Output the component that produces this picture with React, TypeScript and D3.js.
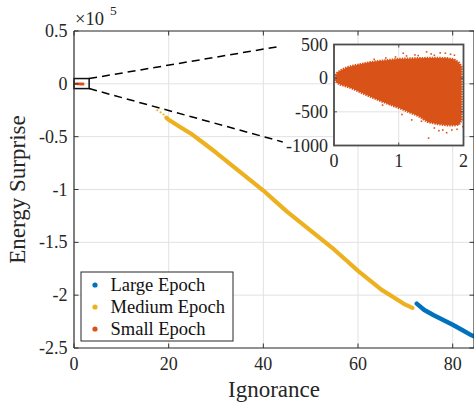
import React from "react";
import * as d3 from "d3";

// ---------- data (energy surprise in units of 1e5 for the main axes) ----------
const mediumX = [19.5, 20, 22.5, 25, 27.5, 30, 32.5, 35, 37.5, 40, 42.5, 45, 47.5, 50, 52.5, 55, 57.5, 60, 62.5, 65, 67.5, 70, 71.5];
const mediumY = [-0.32, -0.34, -0.41, -0.48, -0.565, -0.65, -0.74, -0.83, -0.92, -1.01, -1.11, -1.21, -1.30, -1.39, -1.48, -1.57, -1.67, -1.77, -1.86, -1.95, -2.02, -2.09, -2.12];
const mediumStrayX = [17.6, 18.3, 18.9];
const mediumStrayY = [-0.25, -0.27, -0.29];
const largeX = [72.4, 74, 76, 78, 80, 82, 84, 86];
const largeY = [-2.08, -2.14, -2.19, -2.235, -2.28, -2.33, -2.38, -2.42];

// small epoch cloud (raw energy surprise), dense envelope
const smallX = [0.02, 0.05, 0.1, 0.2, 0.3, 0.4, 0.55, 0.7, 0.86, 1.0, 1.15, 1.3, 1.45, 1.6, 1.75, 1.85, 1.93, 1.97];
const smallUpper = [40, 80, 115, 160, 185, 205, 235, 255, 270, 285, 290, 295, 300, 300, 295, 280, 230, 170];
const smallLower = [-40, -70, -95, -125, -160, -205, -270, -330, -390, -440, -500, -560, -650, -680, -700, -700, -690, -620];
const smallStrayX = [1.07, 1.12, 1.25, 1.3, 1.43, 1.5, 1.55, 1.64, 1.72, 1.8, 1.86, 0.62, 0.8, 0.95, 1.46, 1.74, 1.99, 1.62, 1.9, 1.35, 1.55, 1.2, 1.05, 0.75, 1.68, 1.82, 1.95];
const smallStrayY = [370, 330, 345, 335, 390, 360, 340, 375, 370, 355, 340, 280, 300, 315, -890, -810, -720, -780, -760, -640, -740, -620, -540, -400, -770, -770, -450];

const xTicks = [0, 20, 40, 60, 80];
const yTicks = [0.5, 0, -0.5, -1, -1.5, -2, -2.5];
const yTickLabels = ["0.5", "0", "-0.5", "-1", "-1.5", "-2", "-2.5"];
const insetXTicks = [0, 1, 2];
const insetYTicks = [500, 0, -500, -1000];

const zoomBoxX = [0, 3.2];
const zoomBoxY = [-0.045, 0.05];
const connectorEnds = [
  [42.9, 0.35],
  [44.1, -0.55],
];

const legendNames = ["Large Epoch", "Medium Epoch", "Small Epoch"];
const legendColors = ["#0072BD", "#EDB120", "#D95319"];

const FONT = '"Liberation Serif", "DejaVu Serif", serif';
const AX = "#333333";
const GRID = "#e2e2e2";

export default function App() {
  const x = d3.scaleLinear().domain([0, 84.5]).range([74, 474]);
  const y = d3.scaleLinear().domain([-2.5, 0.5]).range([348, 31]);
  const ix = d3.scaleLinear().domain([0, 2]).range([334, 463.5]);
  const iy = d3.scaleLinear().domain([-1000, 500]).range([145.5, 44.5]);

  const [x0, x1] = x.range();
  const [y0, y1] = [y(0.5), y(-2.5)];
  const [ix0, ix1] = ix.range();
  const [iy0, iy1] = [iy(500), iy(-1000)];

  const medPath = d3.line<number>().x((d) => x(d)).y((_, i) => y(mediumY[i]))(mediumX as any) || "";
  const largePath = d3.line<number>().x((d) => x(d)).y((_, i) => y(largeY[i]))(largeX as any) || "";
  const insetArea = d3.area<number>().x((d) => ix(d)).y0((_, i) => iy(smallLower[i])).y1((_, i) => iy(smallUpper[i]))(smallX as any) || "";
  const mainSmallArea = d3.area<number>().x((d) => x(d)).y0((_, i) => y(smallLower[i] / 1e5)).y1((_, i) => y(smallUpper[i] / 1e5))(smallX as any) || "";

  const tickLen = 4.5;
  const ts = (size: number, fill = "#262626") => ({ fontFamily: FONT, fontSize: size + "px", fill });

  return (
    <svg width={474} height={402} style={{ position: "absolute", left: 0, top: 0, background: "#fff" }}>
      <defs>
        <clipPath id="mainClip"><rect x={x0} y={y0} width={x1 - x0} height={y1 - y0} /></clipPath>
        <clipPath id="insetClip"><rect x={ix0} y={iy0} width={ix1 - ix0} height={iy1 - iy0} /></clipPath>
      </defs>
      <rect x={0} y={0} width={474} height={402} fill="#fff" />

      {xTicks.map((t) => (<line key={"gx" + t} x1={x(t)} x2={x(t)} y1={y0} y2={y1} stroke={GRID} />))}
      {yTicks.map((t) => (<line key={"gy" + t} x1={x0} x2={x1} y1={y(t)} y2={y(t)} stroke={GRID} />))}

      <g clipPath="url(#mainClip)">
        <path d={medPath} fill="none" stroke="#EDB120" strokeWidth={4.2} strokeLinejoin="round" strokeLinecap="round" />
        {mediumStrayX.map((v, i) => (<circle key={"ms" + i} cx={x(v)} cy={y(mediumStrayY[i])} r={1.1} fill="#EDB120" />))}
        <path d={largePath} fill="none" stroke="#0072BD" strokeWidth={4.4} strokeLinejoin="round" strokeLinecap="round" />
        <path d={mainSmallArea} fill="#D95319" stroke="#D95319" strokeWidth={2} />
      </g>

      <rect x={x(zoomBoxX[0])} y={y(zoomBoxY[1])} width={x(zoomBoxX[1]) - x(zoomBoxX[0])} height={y(zoomBoxY[0]) - y(zoomBoxY[1])} fill="none" stroke="#111" strokeWidth={1.5} />
      <line x1={x(zoomBoxX[1])} y1={y(zoomBoxY[1])} x2={x(connectorEnds[0][0])} y2={y(connectorEnds[0][1])} stroke="#000" strokeWidth={1.5} strokeDasharray="8,5" />
      <line x1={x(zoomBoxX[1])} y1={y(zoomBoxY[0])} x2={x(connectorEnds[1][0])} y2={y(connectorEnds[1][1])} stroke="#000" strokeWidth={1.5} strokeDasharray="8,5" />

      <line x1={x0} x2={x0} y1={y0} y2={y1} stroke={AX} strokeWidth={1.2} />
      <line x1={x0} x2={x1} y1={y1} y2={y1} stroke={AX} strokeWidth={1.2} />
      <line x1={x0} x2={x1} y1={y0} y2={y0} stroke={AX} strokeWidth={1.2} />
      <line x1={x1} x2={x1} y1={y0} y2={y1} stroke={AX} strokeWidth={1.2} />
      {xTicks.map((t) => (
        <g key={"xt" + t}>
          <line x1={x(t)} x2={x(t)} y1={y1} y2={y1 - tickLen} stroke={AX} />
          <line x1={x(t)} x2={x(t)} y1={y0} y2={y0 + tickLen} stroke={AX} />
          <text x={x(t)} y={370} textAnchor="middle" style={ts(18)}>{String(t)}</text>
        </g>
      ))}
      {yTicks.map((t, i) => (
        <g key={"yt" + t}>
          <line x1={x0} x2={x0 + tickLen} y1={y(t)} y2={y(t)} stroke={AX} />
          <line x1={x1} x2={x1 - tickLen} y1={y(t)} y2={y(t)} stroke={AX} />
          <text x={67.5} y={y(t) + 6} textAnchor="end" style={ts(18)}>{yTickLabels[i]}</text>
        </g>
      ))}

      <text x={75} y={25} style={ts(18.5)}>×10</text>
      <text x={110} y={15} style={ts(13.5)}>5</text>

      <text x={274} y={397} textAnchor="middle" style={ts(23)}>Ignorance</text>
      <text transform={`translate(25,${(y0 + y1) / 2}) rotate(-90)`} textAnchor="middle" style={ts(23)}>Energy Surprise</text>

      <rect x={81} y={272} width={152} height={69} fill="#fff" stroke="#262626" strokeWidth={1} />
      {legendNames.map((n, i) => (
        <g key={n}>
          <circle cx={95} cy={285 + i * 22} r={2.6} fill={legendColors[i]} />
          <text x={110.5} y={285 + i * 22 + 5.5} style={ts(18.5, "#111")}>{n}</text>
        </g>
      ))}

      <rect x={ix0} y={iy0} width={ix1 - ix0} height={iy1 - iy0} fill="#fff" />
      {insetXTicks.map((t) => (<line key={"igx" + t} x1={ix(t)} x2={ix(t)} y1={iy0} y2={iy1} stroke={GRID} />))}
      {insetYTicks.map((t) => (<line key={"igy" + t} x1={ix0} x2={ix1} y1={iy(t)} y2={iy(t)} stroke={GRID} />))}
      <g clipPath="url(#insetClip)">
        <path d={insetArea} fill="#D95319" stroke="#D95319" strokeWidth={2.4} strokeLinejoin="round" strokeDasharray="1.5,1" />
        {smallStrayX.map((v, i) => (<rect key={"ss" + i} x={ix(v) - 0.8} y={iy(smallStrayY[i]) - 0.8} width={1.6} height={1.6} fill="#D95319" />))}
      </g>
      <rect x={ix0} y={iy0} width={ix1 - ix0} height={iy1 - iy0} fill="none" stroke="#4d4d4d" strokeWidth={1.8} />
      {insetXTicks.map((t) => (
        <g key={"ixt" + t}>
          <line x1={ix(t)} x2={ix(t)} y1={iy1} y2={iy1 - 3} stroke="#4d4d4d" />
          <line x1={ix(t)} x2={ix(t)} y1={iy0} y2={iy0 + 3} stroke="#4d4d4d" />
          <text x={ix(t)} y={167} textAnchor="middle" style={ts(18)}>{String(t)}</text>
        </g>
      ))}
      {insetYTicks.map((t) => (
        <g key={"iyt" + t}>
          <line x1={ix0} x2={ix0 + 3} y1={iy(t)} y2={iy(t)} stroke="#4d4d4d" />
          <line x1={ix1} x2={ix1 - 3} y1={iy(t)} y2={iy(t)} stroke="#4d4d4d" />
          <text x={328} y={iy(t) + 6} textAnchor="end" style={ts(18)}>{String(t)}</text>
        </g>
      ))}
    </svg>
  );
}
